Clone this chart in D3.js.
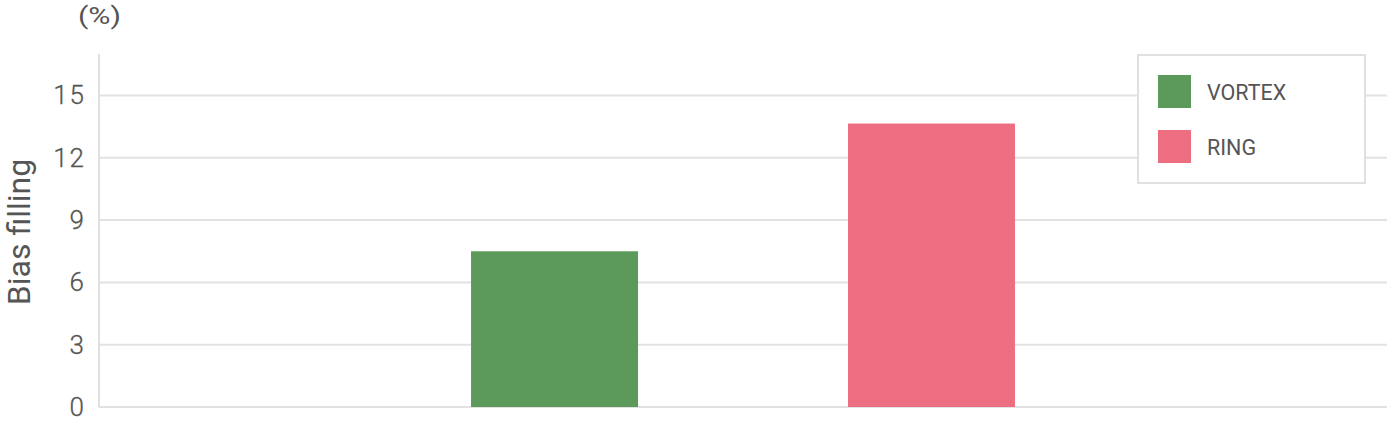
<!DOCTYPE html>
<html><head><meta charset="utf-8">
<script src="https://cdn.jsdelivr.net/npm/d3@7"></script>
<style>
html,body{margin:0;padding:0;background:#fff;}
svg{display:block;font-family:Roboto,"Noto Sans",sans-serif;}
</style></head>
<body><svg id="c" width="1392" height="424"></svg>
<script>
const series = ["VORTEX", "RING"];
const values = [7.5, 13.65];
const colors = ["#5b9a5a", "#ee6e81"];
const yTicks = [0, 3, 6, 9, 12, 15];
const yMax = 17;
const yLabel = "Bias filling";
const unitLabel = "(%)";

const svg = d3.select("#c");
const plotL = 99, plotR = 1387, plotT = 54, plotB = 407;

const y = d3.scaleLinear().domain([0, yMax]).range([plotB, plotT]);
const x = d3.scaleBand().domain(series).range([plotL, plotR]).paddingInner(0.557).paddingOuter(0.987);

// grid
svg.append("g").selectAll("line").data(yTicks).join("line")
  .attr("x1", plotL).attr("x2", plotR)
  .attr("y1", d => y(d)).attr("y2", d => y(d))
  .attr("stroke", "#e2e2e2").attr("stroke-width", 2);

// left axis line
svg.append("line").attr("x1", plotL).attr("x2", plotL)
  .attr("y1", plotT).attr("y2", plotB)
  .attr("stroke", "#e0e0e0").attr("stroke-width", 2);

// y tick labels
const yAxis = d3.axisLeft(y).tickValues(yTicks).tickSize(0).tickPadding(13);
const ga = svg.append("g").attr("transform", `translate(${plotL},0)`).call(yAxis);
ga.select(".domain").remove();
ga.selectAll("text").attr("font-size", 26).attr("fill", "#555")
  .attr("font-family", "Roboto,sans-serif").attr("font-weight", 300).attr("letter-spacing", 2)
  .attr("stroke", "#555").attr("stroke-width", 0.3);

// bars
svg.append("g").selectAll("rect").data(series).join("rect")
  .attr("x", d => x(d)).attr("width", x.bandwidth())
  .attr("y", (d, i) => y(values[i]))
  .attr("height", (d, i) => y(0) - y(values[i]))
  .attr("fill", (d, i) => colors[i]);

// unit label
svg.append("text").attr("x", 78).attr("y", 24)
  .attr("font-size", 23).attr("fill", "#555")
  .attr("textLength", 43).attr("lengthAdjust", "spacingAndGlyphs").text(unitLabel);

// y axis title
svg.append("text").attr("transform", `translate(30,232) rotate(-90)`)
  .attr("text-anchor", "middle").attr("font-size", 32).attr("fill", "#555").text(yLabel);

// legend
const lg = svg.append("g");
lg.append("rect").attr("x", 1138).attr("y", 55).attr("width", 227).attr("height", 128)
  .attr("fill", "#fff").attr("stroke", "#e0e0e0").attr("stroke-width", 2);
const li = lg.selectAll("g.item").data(series).join("g").attr("class", "item")
  .attr("transform", (d, i) => `translate(1158,${75 + i * 55})`);
li.append("rect").attr("width", 33).attr("height", 33).attr("fill", (d, i) => colors[i]);
li.append("text").attr("x", 49).attr("y", 17).attr("dy", "0.35em")
  .attr("font-size", 21.5).attr("fill", "#555").text(d => d);
</script></body></html>
